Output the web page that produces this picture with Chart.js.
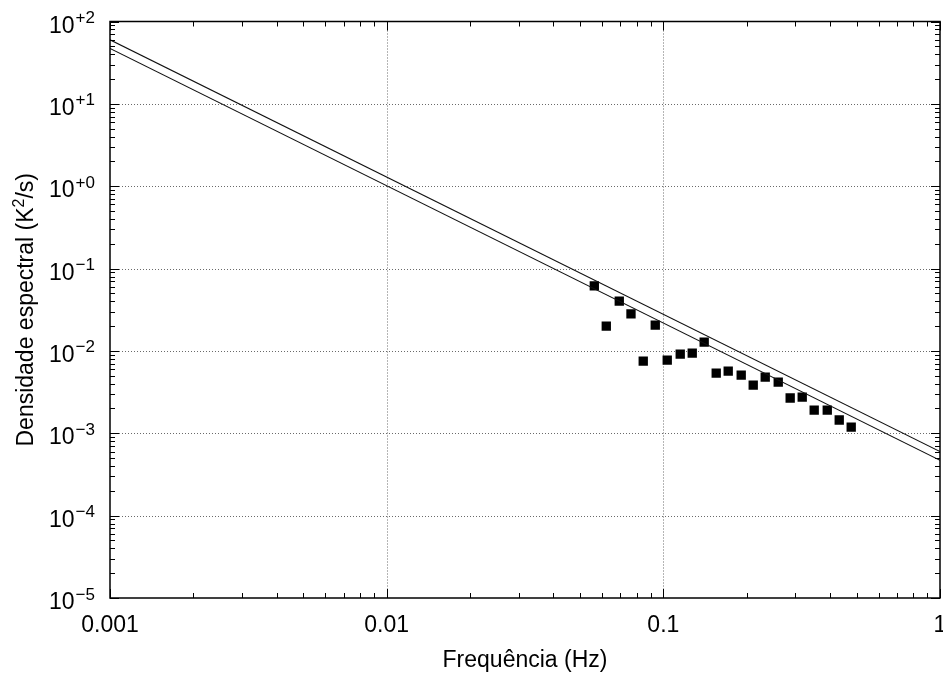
<!DOCTYPE html>
<html>
<head>
<meta charset="utf-8">
<script src="https://cdn.jsdelivr.net/npm/chart.js@4/dist/chart.umd.min.js"></script>
<style>
  body { margin: 0; background: #fff; }
  #wrap { width: 943px; height: 679px; }
</style>
</head>
<body>
<div id="wrap"><canvas id="chart" width="943" height="679"></canvas></div>
<script>
// Spectral density points (Hz, K^2/s)
var freq = [0.0563, 0.0622, 0.0693, 0.0764, 0.0846, 0.0935, 0.1033, 0.1151, 0.1272, 0.1405, 0.1553,
  0.1716, 0.1912, 0.2113, 0.2335, 0.2602, 0.2874, 0.3177, 0.3510, 0.3913, 0.4323, 0.4776];
var density = [0.0617, 0.0200, 0.0402, 0.0282, 0.00752, 0.0206, 0.00773, 0.00914, 0.00940, 0.0128, 0.00538,
  0.00569, 0.00508, 0.00385, 0.00481, 0.00418, 0.00268, 0.00275, 0.00191, 0.00191, 0.00145, 0.00119];

// Two -5/3 reference lines, end points at the axis limits
var lineFreq = [0.001, 1];
var upperLine = [60, 6.0e-4];
var lowerLine = [47, 4.7e-4];

// Axis limits and tick labels
var xDecades = [0.001, 0.01, 0.1, 1];
var xTickLabels = ['0.001', '0.01', '0.1', '1'];
var yDecades = [1e-5, 1e-4, 1e-3, 1e-2, 1e-1, 1, 10, 100];
var yTickExps = ['\u22125', '\u22124', '\u22123', '\u22122', '\u22121', '+0', '+1', '+2'];
var minorSteps = [2, 3, 4, 5, 6, 7, 8, 9];

var FONT = '"Liberation Sans", Arial, Helvetica, sans-serif';

function pairs(xs, ys) {
  return xs.map(function (x, i) { return { x: x, y: ys[i] }; });
}

// Draws dotted grid, the frame, inward ticks and the gnuplot-style labels.
var frame = {
  id: 'frame',
  beforeDatasetsDraw: function (chart) {
    var ctx = chart.ctx;
    var a = chart.chartArea;
    var xs = chart.scales.x;
    var ys = chart.scales.y;
    ctx.save();
    ctx.strokeStyle = '#6a6a6a';
    ctx.lineWidth = 1;
    ctx.setLineDash([1, 2]);
    ctx.beginPath();
    xDecades.forEach(function (v) {
      var px = Math.round(xs.getPixelForValue(v)) + 0.5;
      if (px > a.left + 2 && px < a.right - 2) {
        ctx.moveTo(px, a.top);
        ctx.lineTo(px, a.bottom);
      }
    });
    yDecades.forEach(function (v) {
      var py = Math.round(ys.getPixelForValue(v)) + 0.5;
      if (py > a.top + 2 && py < a.bottom - 2) {
        ctx.moveTo(a.left, py);
        ctx.lineTo(a.right, py);
      }
    });
    ctx.stroke();
    ctx.restore();
  },
  afterDraw: function (chart) {
    var ctx = chart.ctx;
    var a = chart.chartArea;
    var xs = chart.scales.x;
    var ys = chart.scales.y;
    ctx.save();
    ctx.strokeStyle = '#000';
    ctx.lineWidth = 1.5;
    ctx.setLineDash([]);
    ctx.strokeRect(a.left, a.top, a.right - a.left, a.bottom - a.top);

    // tick marks on all four sides
    ctx.lineWidth = 1;
    ctx.beginPath();
    function xTick(v, len) {
      var px = Math.round(xs.getPixelForValue(v)) + 0.5;
      ctx.moveTo(px, a.bottom); ctx.lineTo(px, a.bottom - len);
      ctx.moveTo(px, a.top); ctx.lineTo(px, a.top + len);
    }
    function yTick(v, len) {
      var py = Math.round(ys.getPixelForValue(v)) + 0.5;
      ctx.moveTo(a.left, py); ctx.lineTo(a.left + len, py);
      ctx.moveTo(a.right, py); ctx.lineTo(a.right - len, py);
    }
    xDecades.forEach(function (d, i) {
      xTick(d, 9);
      if (i < xDecades.length - 1) {
        minorSteps.forEach(function (m) { xTick(d * m, 5); });
      }
    });
    yDecades.forEach(function (d, i) {
      yTick(d, 9);
      if (i < yDecades.length - 1) {
        minorSteps.forEach(function (m) { yTick(d * m, 5); });
      }
    });
    ctx.stroke();

    // x tick labels
    ctx.fillStyle = '#000';
    ctx.font = '23px ' + FONT;
    ctx.textAlign = 'center';
    ctx.textBaseline = 'alphabetic';
    xDecades.forEach(function (v, i) {
      ctx.fillText(xTickLabels[i], xs.getPixelForValue(v), a.bottom + 34);
    });

    // y tick labels: 10 with superscript exponent
    yDecades.forEach(function (v, i) {
      var py = ys.getPixelForValue(v);
      ctx.font = '17px ' + FONT;
      var wSup = ctx.measureText(yTickExps[i]).width;
      ctx.textAlign = 'right';
      ctx.fillText(yTickExps[i], 95, py + 1.5);
      ctx.font = '23px ' + FONT;
      ctx.fillText('10', 95 - wSup - 1, py + 11);
    });

    // x axis title
    ctx.font = '23px ' + FONT;
    ctx.textAlign = 'center';
    ctx.fillText('Frequ\u00eancia (Hz)', (a.left + a.right) / 2, 667);

    // y axis title, rotated, with superscript 2
    ctx.translate(33, (a.top + a.bottom) / 2);
    ctx.rotate(-Math.PI / 2);
    var p1 = 'Densidade espectral (K';
    var p2 = '2';
    var p3 = '/s)';
    ctx.font = '23px ' + FONT;
    var w1 = ctx.measureText(p1).width;
    var w3 = ctx.measureText(p3).width;
    ctx.font = '16px ' + FONT;
    var w2 = ctx.measureText(p2).width;
    var x0 = -(w1 + w2 + w3) / 2;
    ctx.textAlign = 'left';
    ctx.font = '23px ' + FONT;
    ctx.fillText(p1, x0, 0);
    ctx.fillText(p3, x0 + w1 + w2, 0);
    ctx.font = '16px ' + FONT;
    ctx.fillText(p2, x0 + w1, -9);
    ctx.restore();
  }
};

new Chart(document.getElementById('chart'), {
  type: 'scatter',
  data: {
    datasets: [
      {
        type: 'line',
        data: pairs(lineFreq, upperLine),
        borderColor: '#111',
        borderWidth: 1.1,
        pointRadius: 0,
        fill: false,
      },
      {
        type: 'line',
        data: pairs(lineFreq, lowerLine),
        borderColor: '#111',
        borderWidth: 1.1,
        pointRadius: 0,
        fill: false,
      },
      {
        data: pairs(freq, density),
        pointStyle: 'rect',
        pointRadius: 6.6,
        borderWidth: 0,
        backgroundColor: '#000',
        borderColor: '#000',
      },
    ],
  },
  options: {
    responsive: false,
    animation: false,
    events: [],
    layout: { autoPadding: false, padding: { top: 21.5, right: 3, left: 0, bottom: 0 } },
    plugins: { legend: { display: false }, tooltip: { enabled: false } },
    scales: {
      x: {
        type: 'logarithmic',
        min: 0.001,
        max: 1,
        grid: { display: false },
        border: { display: false },
        ticks: { display: false },
        afterFit: function (scale) { scale.height = 81; },
      },
      y: {
        type: 'logarithmic',
        min: 1e-5,
        max: 100,
        grid: { display: false },
        border: { display: false },
        ticks: { display: false },
        afterFit: function (scale) { scale.width = 110; },
      },
    },
  },
  plugins: [frame],
});
</script>
</body>
</html>
